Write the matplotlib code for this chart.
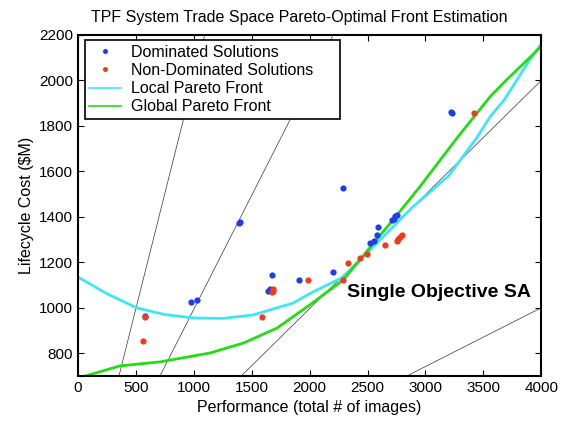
import matplotlib
matplotlib.use("Agg")
import matplotlib.pyplot as plt

plt.rcParams['font.family'] = ['Liberation Sans', 'DejaVu Sans']

# dominated solutions (performance, cost)
dom_x = [3222, 3230, 2287, 1400, 1394, 977, 1025, 1673, 1644, 1659, 1912, 579,
         2206, 2523, 2557, 2586, 2594, 2710, 2739, 2753, 2725]
dom_y = [1861, 1856, 1527, 1379, 1372, 1025, 1036, 1144, 1075, 1081, 1122, 964,
         1159, 1284, 1294, 1320, 1357, 1386, 1404, 1408, 1389]

# non-dominated solutions
nd_x = [579, 564, 1587, 1688, 1676, 1688, 1990, 2292, 2335, 2436, 2494, 2647,
        2753, 2767, 2782, 2797, 3415]
nd_y = [958, 854, 960, 1083, 1068, 1075, 1122, 1122, 1196, 1218, 1237, 1276,
        1295, 1301, 1313, 1320, 1856]

# local pareto front
loc_x = [0, 250, 510, 750, 1000, 1250, 1510, 1860, 2000, 2290, 2580, 2890,
         3200, 3440, 3560, 3680, 3790, 3900, 4000]
loc_y = [1135, 1062, 999, 970, 955, 953, 968, 1021, 1062, 1135, 1284, 1443,
         1580, 1745, 1841, 1914, 2002, 2090, 2160]

# global pareto front
glob_x = [0, 360, 710, 1140, 1430, 1720, 2000, 2290, 2610, 2720, 2950, 3270,
          3560, 3700, 3880, 4000]
glob_y = [690, 744, 762, 801, 845, 911, 1012, 1122, 1320, 1386, 1531, 1745,
          1929, 2002, 2090, 2150]

# thin reference lines (start/end points)
ref_lines = [([354, 1094], [700, 2200]),
             ([708, 2203], [700, 2200]),
             ([1410, 4000], [700, 2000]),
             ([2840, 4000], [700, 1000])]

fig = plt.figure(figsize=(5.65, 4.21), dpi=100)
ax = fig.add_axes([0.138, 0.107, 0.82, 0.81])

for xs, ys in ref_lines:
    ax.plot(xs, ys, color='black', lw=0.5, alpha=0.8)

ax.plot(loc_x, loc_y, color='#3de6f7', lw=2, label='Local Pareto Front')
ax.plot(glob_x, glob_y, color='#22dd11', lw=2, label='Global Pareto Front')
ax.plot(dom_x, dom_y, 'o', color='#1e3cf0', ms=4.5, mew=0, label='Dominated Solutions')
ax.plot(nd_x, nd_y, 'o', color='#f03a1a', ms=4.5, mew=0, label='Non-Dominated Solutions')

ax.text(2320, 1065, 'Single Objective SA', fontsize=14, fontweight='bold',
        ha='left', va='center')

ax.set_xlim(0, 4000)
ax.set_ylim(700, 2200)
ax.set_xticks(range(0, 4001, 500))
ax.set_yticks(range(800, 2201, 200))
ax.tick_params(direction='in', top=True, right=True, labelsize=11, length=4)
for s in ax.spines.values():
    s.set_linewidth(1.5)

ax.set_title('TPF System Trade Space Pareto-Optimal Front Estimation',
             fontsize=11.5, x=0.477, pad=9)
ax.set_xlabel('Performance (total # of images)', fontsize=11.5)
ax.set_ylabel('Lifecycle Cost ($M)', fontsize=11.5)

h, l = ax.get_legend_handles_labels()
order = [2, 3, 0, 1]
leg = ax.legend([h[i] for i in order], [l[i] for i in order], loc='upper left',
                bbox_to_anchor=(0.0145, 0.765, 0.5505, 0.22), mode='expand',
                fontsize=11.5, fancybox=False, framealpha=1, edgecolor='black',
                borderaxespad=0, labelspacing=0.2, handlelength=2.0,
                handletextpad=0.6, borderpad=0.3, markerscale=0.8)
leg.get_frame().set_linewidth(1.2)
for hl in leg.get_lines():
    hl.set_linewidth(1.2)

fig.savefig('out.png', dpi=100)
